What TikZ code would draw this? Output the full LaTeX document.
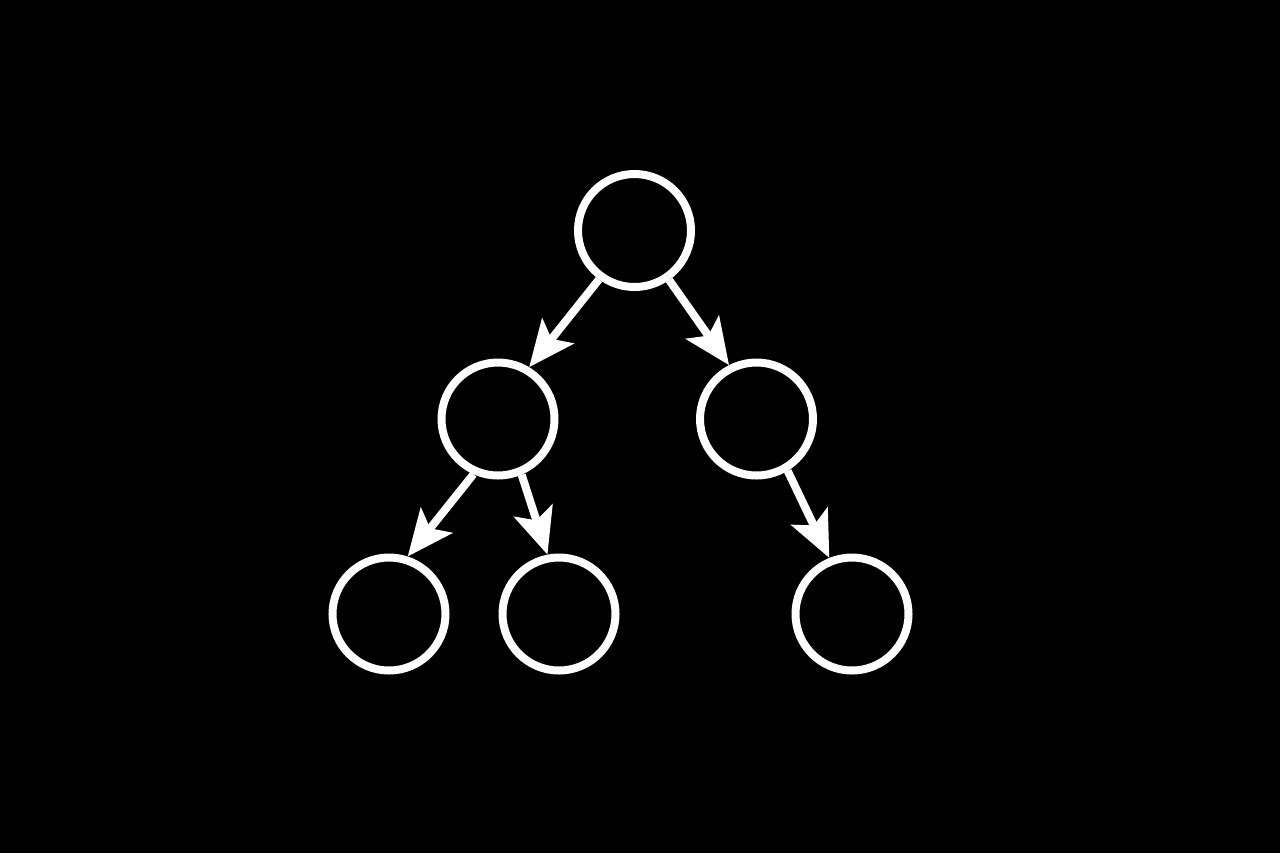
\documentclass[tikz,border=0pt]{standalone}
\usetikzlibrary{arrows.meta}
\begin{document}
\begin{tikzpicture}[x=0.5pt,y=-0.5pt,
  treenode/.style={circle,draw=white,line width=4pt,minimum size=56.5pt,inner sep=0pt},
  treearrow/.style={draw=white,line width=4pt,-{Stealth[length=23pt,width=20pt,inset=5pt]}}]
\fill[black] (0,0) rectangle (1280,853);
\useasboundingbox (0,0) rectangle (1280,853);
\node[treenode] (root) at (634.5,230.5) {};
\node[treenode] (l) at (498,419) {};
\node[treenode] (r) at (756.5,419) {};
\node[treenode] (ll) at (389,614) {};
\node[treenode] (lm) at (559,614) {};
\node[treenode] (rr) at (852,614) {};
\draw[treearrow] (root.-126.6) -- (l.59.3);
\draw[treearrow] (root.-55.6) -- (r.117.8);
\draw[treearrow] (l.-114.8) -- (ll.72.2);
\draw[treearrow] (l.-67.8) -- (lm.101.5);
\draw[treearrow] (r.-59.1) -- (rr.112);
\end{tikzpicture}
\end{document}
